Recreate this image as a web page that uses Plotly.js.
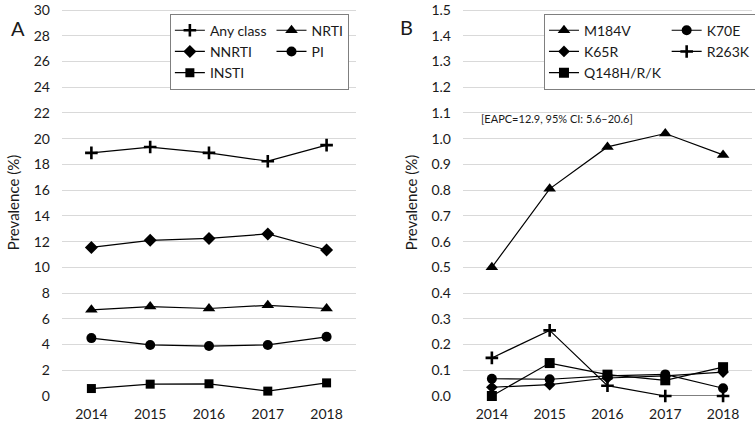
<!DOCTYPE html>
<html>
<head>
<meta charset="utf-8">
<script src="https://cdn.plot.ly/plotly-3.0.1.min.js"></script>
<style>
  body { margin: 0; background: #fff; }
  #chart { width: 755px; height: 423px; }
</style>
</head>
<body>
<div id="chart"></div>
<script>
// data
var years = ['2014', '2015', '2016', '2017', '2018'];

// panel A: drug classes
var anyClass = [18.9, 19.35, 18.9, 18.25, 19.5];
var nrti = [6.7, 6.95, 6.8, 7.05, 6.8];
var nnrti = [11.55, 12.1, 12.25, 12.6, 11.35];
var pi = [4.5, 3.97, 3.88, 3.97, 4.6];
var insti = [0.58, 0.92, 0.95, 0.38, 1.02];

// panel B: mutations
var m184v = [0.5, 0.805, 0.968, 1.02, 0.937];
var k70e = [0.067, 0.065, 0.078, 0.084, 0.03];
var k65r = [0.034, 0.044, 0.07, 0.078, 0.093];
var r263k = [0.148, 0.255, 0.04, 0, 0];
var q148 = [0, 0.128, 0.083, 0.061, 0.112];

var font = 'Lato, "Open Sans", sans-serif';
var ink = '#1a1a1a';

function series(name, y, symbol, size, axis, legend, group) {
  var cross = symbol === 'cross-thin';
  return {
    type: 'scatter',
    mode: 'lines+markers',
    name: name,
    x: years,
    y: y,
    xaxis: axis === 1 ? 'x' : 'x2',
    yaxis: axis === 1 ? 'y' : 'y2',
    legend: legend,
    legendgroup: group,
    cliponaxis: false,
    line: { color: 'black', width: 1.2 },
    marker: {
      symbol: symbol,
      size: size,
      color: 'black',
      line: { color: 'black', width: cross ? 2.6 : 0 }
    },
    hoverinfo: 'x+y+name'
  };
}

var data = [
  series('Any class', anyClass, 'cross-thin', 9, 1, 'legend', 'a1'),
  series('NRTI', nrti, 'triangle-up', 11, 1, 'legend', 'a2'),
  series('NNRTI', nnrti, 'diamond', 10, 1, 'legend', 'a1'),
  series('PI', pi, 'circle', 10, 1, 'legend', 'a2'),
  series('INSTI', insti, 'square', 9, 1, 'legend', 'a1'),

  series('M184V', m184v, 'triangle-up', 11, 2, 'legend2', 'b1'),
  series('K70E', k70e, 'circle', 10, 2, 'legend2', 'b2'),
  series('K65R', k65r, 'diamond', 9, 2, 'legend2', 'b1'),
  series('R263K', r263k, 'cross-thin', 9, 2, 'legend2', 'b2'),
  series('Q148H/R/K', q148, 'square', 10, 2, 'legend2', 'b1')
];

var yaxisBase = {
  showgrid: true,
  gridcolor: '#d9d9d9',
  gridwidth: 1,
  zeroline: false,
  showline: false,
  ticks: '',
  ticklabelstandoff: 11,
  ticklabeloverflow: 'allow',
  tickfont: { family: font, size: 14, color: ink },
  title: { text: 'Prevalence (%)', font: { family: font, size: 15, color: ink }, standoff: 10 }
};

var xaxisBase = {
  type: 'category',
  range: [-0.5, 4.5],
  showgrid: false,
  zeroline: false,
  showline: false,
  ticks: '',
  ticklabelstandoff: 8,
  tickfont: { family: font, size: 14, color: ink }
};

var legendBase = {
  orientation: 'h',
  xanchor: 'left',
  yanchor: 'top',
  y: 0.988,
  bgcolor: 'white',
  bordercolor: '#7f7f7f',
  borderwidth: 1,
  tracegroupgap: 0,
  itemclick: false,
  font: { family: font, size: 14, color: ink }
};

var layout = {
  width: 755,
  height: 423,
  margin: { l: 0, r: 0, t: 9, b: 27, autoexpand: false },
  paper_bgcolor: 'white',
  plot_bgcolor: 'white',
  font: { family: font, size: 14, color: ink },
  xaxis: Object.assign({}, xaxisBase, { domain: [0.0821, 0.4715], anchor: 'y' }),
  yaxis: Object.assign({}, yaxisBase, { range: [0, 30.08], dtick: 2, tick0: 0, anchor: 'x' }),
  xaxis2: Object.assign({}, xaxisBase, { domain: [0.6132, 0.996], anchor: 'y2' }),
  yaxis2: Object.assign({}, yaxisBase, { range: [0, 1.504], dtick: 0.1, tick0: 0, tickformat: '.1f', anchor: 'x2' }),
  legend: Object.assign({}, legendBase, { x: 0.225 }),
  legend2: Object.assign({}, legendBase, { x: 0.7205 }),
  annotations: [
    { text: 'A', xref: 'paper', yref: 'paper', x: 0.012, y: 0.986, showarrow: false,
      font: { family: font, size: 20, color: ink } },
    { text: 'B', xref: 'paper', yref: 'paper', x: 0.539, y: 0.99, showarrow: false,
      font: { family: font, size: 20, color: ink } },
    { text: '[EAPC=12.9, 95% CI: 5.6\u201320.6]', xref: 'x2', yref: 'y2', x: 1.12, y: 1.08,
      showarrow: false, font: { family: font, size: 11, color: ink } }
  ]
};

Plotly.newPlot('chart', data, layout, { displayModeBar: false, staticPlot: true });
</script>
</body>
</html>
